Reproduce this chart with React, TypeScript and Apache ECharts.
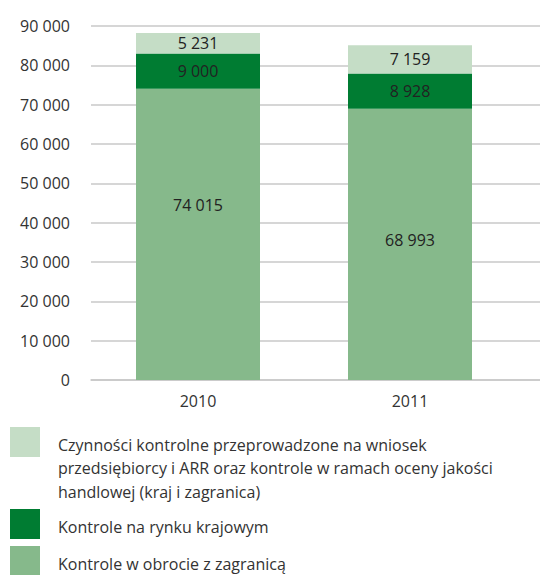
import React, { useEffect, useRef } from "react";
import * as echarts from "echarts";

const categories = ["2010", "2011"];
const seriesNames = [
  "Kontrole w obrocie z zagranicą",
  "Kontrole na rynku krajowym",
  "Czynności kontrolne przeprowadzone na wniosek\nprzedsiębiorcy i ARR oraz kontrole w ramach oceny jakości\nhandlowej (kraj i zagranica)",
];
const foreignValues = [74015, 68993];
const domesticValues = [9000, 8928];
const requestValues = [5231, 7159];
const seriesColors = ["#86b98b", "#007c32", "#c5ddc6"];
const yTicks = [0, 10000, 20000, 30000, 40000, 50000, 60000, 70000, 80000, 90000];

const FONT = "'Open Sans', 'Noto Sans', sans-serif";
const fmt = (v: number) => String(v).replace(/\B(?=(\d{3})+(?!\d))/g, " ");

export default function App() {
  const ref = useRef<HTMLDivElement>(null);
  useEffect(() => {
    if (!ref.current) return;
    const chart = echarts.init(ref.current, null, { renderer: "svg" });
    const values = [foreignValues, domesticValues, requestValues];
    const yMax = yTicks[yTicks.length - 1];
    const yInterval = yTicks[1] - yTicks[0];
    // vertical nudges of the inside labels of the bottom series (as in the original)
    const bottomLabelOffsets = [-29, -4];

    const legendOrder = [2, 1, 0];
    const legendTops = [427, 509, 546];
    const graphic: any[] = [];
    legendOrder.forEach((si, i) => {
      graphic.push({
        type: "rect",
        left: 10,
        top: legendTops[i],
        shape: { width: 30, height: 30 },
        style: { fill: seriesColors[si] },
      });
      graphic.push({
        type: "text",
        left: 58,
        top: legendTops[i] + 6,
        style: {
          text: seriesNames[si],
          font: `16px ${FONT}`,
          fill: "#333",
          lineHeight: 23.5,
        },
      });
    });

    chart.setOption({
      animation: false,
      grid: [
        { left: 92, right: 24, top: 26, bottom: 195 },
        { left: 91, right: 0, top: 26, bottom: 195 },
      ],
      xAxis: [
        {
          type: "category",
          gridIndex: 0,
          data: categories,
          axisLine: { show: false },
          axisTick: { show: false },
          axisLabel: { margin: 13, fontSize: 16, color: "#333", fontFamily: FONT },
        },
        {
          type: "value",
          gridIndex: 1,
          min: 0,
          max: 1,
          axisLine: { show: true, lineStyle: { color: "#c8c8c8", width: 1.5 } },
          axisTick: { show: false },
          axisLabel: { show: false },
          splitLine: { show: false },
        },
      ],
      yAxis: [
        {
          type: "value",
          gridIndex: 0,
          min: 0,
          max: yMax,
          interval: yInterval,
          axisLine: { show: false },
          axisTick: { show: false },
          splitLine: { show: false },
          axisLabel: {
            margin: 22,
            fontSize: 16,
            color: "#333",
            fontFamily: FONT,
            formatter: (v: number) => fmt(v),
          },
        },
        {
          type: "value",
          gridIndex: 1,
          min: 0,
          max: yMax,
          interval: yInterval,
          axisLine: { show: false },
          axisTick: { show: false },
          axisLabel: { show: false },
          splitLine: { show: true, lineStyle: { color: "#c8c8c8", width: 1.5 } },
        },
      ],
      series: values.map((vals, si) => ({
        type: "bar",
        name: seriesNames[si],
        stack: "total",
        xAxisIndex: 0,
        yAxisIndex: 0,
        barWidth: 124,
        data: vals.map((v, di) =>
          si === 0 ? { value: v, label: { offset: [0, bottomLabelOffsets[di]] } } : v
        ),
        itemStyle: { color: seriesColors[si] },
        label: {
          show: true,
          position: "inside",
          fontSize: 16,
          color: "#222",
          fontFamily: FONT,
          formatter: (p: any) => fmt(p.value),
        },
      })),
      graphic,
    });
    return () => chart.dispose();
  }, []);
  return (
    <div
      ref={ref}
      style={{ position: "fixed", left: 0, top: 0, width: 540, height: 575, background: "#fff" }}
    />
  );
}
